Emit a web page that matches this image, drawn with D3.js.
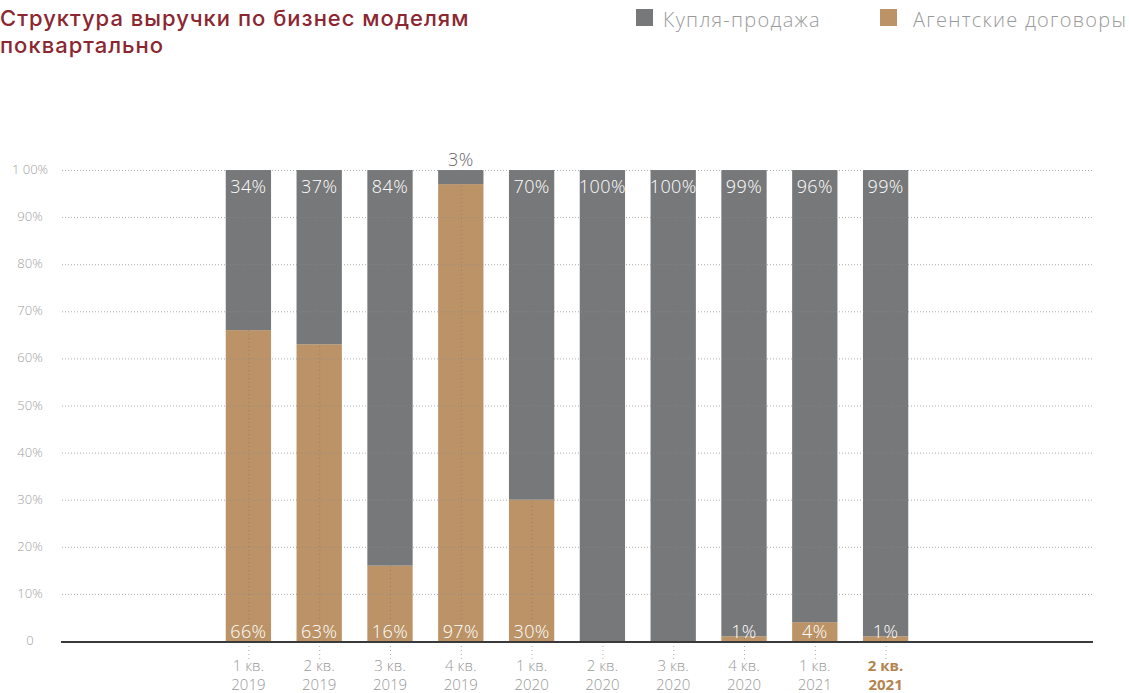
<!DOCTYPE html>
<html>
<head>
<meta charset="utf-8">
<script src="https://cdn.jsdelivr.net/npm/d3@7"></script>
<style>
  body { margin: 0; background: #fff; }
  svg text { font-family: "Open Sans", Roboto, sans-serif; }
</style>
</head>
<body>
<div id="chart"></div>
<script>
// revenue structure by business model, per quarter

var quarters = ["1 кв.", "2 кв.", "3 кв.", "4 кв.", "1 кв.", "2 кв.", "3 кв.", "4 кв.", "1 кв.", "2 кв."];
var years = ["2019", "2019", "2019", "2019", "2020", "2020", "2020", "2020", "2021", "2021"];
var saleShare = [34, 37, 84, 3, 70, 100, 100, 99, 96, 99];   // Купля-продажа
var agentShare = [66, 63, 16, 97, 30, 0, 0, 1, 4, 1];       // Агентские договоры
var seriesNames = ["Купля-продажа", "Агентские договоры"];
var seriesColors = ["#77787a", "#bb9366"];
var yTicks = [0, 10, 20, 30, 40, 50, 60, 70, 80, 90, 100];
var yTickLabels = ["0", "10%", "20%", "30%", "40%", "50%", "60%", "70%", "80%", "90%", "1 00%"];

var totwidth = 1129,
    totheight = 693,
    plot = {left: 61, right: 1094, top: 170, bottom: 641};

var rows = quarters.map(function(q, i) {
  return {key: i, quarter: q, year: years[i], sale: saleShare[i], agent: agentShare[i]};
});

var svg = d3.select("#chart").append("svg")
    .attr("width", totwidth)
    .attr("height", totheight);

var xScale = d3.scaleBand()
    .domain(rows.map(function(d) { return d.key; }))
    .range([213, 921])
    .paddingInner(0.36)
    .paddingOuter(0.18);

var yScale = d3.scaleLinear()
    .domain([0, 100])
    .range([plot.bottom, plot.top]);

// title
var title = svg.append("text")
    .attr("fill", "#8c2631")
    .style("font-family", "Inter, 'Noto Sans', sans-serif")
    .style("font-weight", 500)
    .style("font-size", "22px")
    .style("letter-spacing", "1px");
title.append("tspan").attr("x", 0).attr("y", 26).text("Структура выручки по бизнес моделям");
title.append("tspan").attr("x", 0).attr("y", 53).text("поквартально");

// legend
var legendX = [636, 880], legendTextX = [27, 33];
var legend = svg.selectAll(".legend")
    .data(seriesNames)
    .enter().append("g")
      .attr("class", "legend")
      .attr("transform", function(d, i) { return "translate(" + legendX[i] + ",9)"; });
legend.append("rect")
    .attr("width", 17)
    .attr("height", 17)
    .attr("fill", function(d, i) { return seriesColors[i]; });
legend.append("text")
    .attr("x", function(d, i) { return legendTextX[i]; })
    .attr("y", 18)
    .attr("fill", "#9a9a9a")
    .style("font-size", "20px")
    .style("font-weight", 300)
    .style("letter-spacing", "1.25px")
    .text(function(d) { return d; });

// y axis labels
svg.append("g").selectAll("text")
    .data(yTicks)
    .enter().append("text")
      .attr("x", 30)
      .attr("y", function(d) { return yScale(d) + 4; })
      .attr("text-anchor", "middle")
      .attr("fill", "#a0a0a0")
      .style("font-size", "13px")
      .style("font-weight", 300)
      .text(function(d, i) { return yTickLabels[i]; });

// stacked bars: agent at the bottom, sale on top
var stack = d3.stack().keys(["agent", "sale"]);
var layers = stack(rows);
var layerColor = {agent: seriesColors[1], sale: seriesColors[0]};

svg.append("g").selectAll("g")
    .data(layers)
    .enter().append("g")
      .attr("fill", function(d) { return layerColor[d.key]; })
    .selectAll("rect")
    .data(function(d) { return d; })
    .enter().append("rect")
      .attr("x", function(d) { return xScale(d.data.key); })
      .attr("width", xScale.bandwidth())
      .attr("y", function(d) { return yScale(d[1]); })
      .attr("height", function(d) { return yScale(d[0]) - yScale(d[1]); });

// horizontal grid (drawn over the bars)
svg.append("g").selectAll("line")
    .data(yTicks.filter(function(d) { return d > 0; }))
    .enter().append("line")
      .attr("x1", plot.left + 1)
      .attr("x2", plot.right)
      .attr("y1", function(d) { return yScale(d) + 0.5; })
      .attr("y2", function(d) { return yScale(d) + 0.5; })
      .attr("stroke", "#8a8a8a")
      .attr("stroke-opacity", 0.7)
      .attr("stroke-dasharray", "1,2");

// vertical grid at each quarter, running below the axis
svg.append("g").selectAll("line")
    .data(rows)
    .enter().append("line")
      .attr("x1", function(d) { return xScale(d.key) + xScale.bandwidth() / 2 + 0.5; })
      .attr("x2", function(d) { return xScale(d.key) + xScale.bandwidth() / 2 + 0.5; })
      .attr("y1", plot.top)
      .attr("y2", 661)
      .attr("stroke", "#777")
      .attr("stroke-opacity", 0.6)
      .attr("stroke-dasharray", "1,3");

// baseline
svg.append("line")
    .attr("x1", plot.left)
    .attr("x2", plot.right - 1)
    .attr("y1", plot.bottom + 1)
    .attr("y2", plot.bottom + 1)
    .attr("stroke", "#3a3a3a")
    .attr("stroke-width", 2);

// value labels
var cx = function(d) { return xScale(d.key) + xScale.bandwidth() / 2; };

svg.append("g").selectAll("text")
    .data(rows)
    .enter().append("text")
      .attr("x", cx)
      .attr("y", function(d) { return d.sale < 10 ? yScale(100) - 4 : yScale(100) + 23; })
      .attr("text-anchor", "middle")
      .attr("fill", function(d) { return d.sale < 10 ? "#666" : "#fff"; })
      .style("font-size", "18px")
      .style("font-weight", 300)
      .style("letter-spacing", "0.4px")
      .text(function(d) { return d.sale + "%"; });

svg.append("g").selectAll("text")
    .data(rows.filter(function(d) { return d.agent > 0; }))
    .enter().append("text")
      .attr("x", cx)
      .attr("y", yScale(0) - 3)
      .attr("text-anchor", "middle")
      .attr("fill", "#fff")
      .style("font-size", "18px")
      .style("font-weight", 300)
      .style("letter-spacing", "0.4px")
      .text(function(d) { return d.agent + "%"; });

// category labels
var catLabels = svg.append("g").selectAll("text")
    .data(rows)
    .enter().append("text")
      .attr("text-anchor", "middle")
      .attr("fill", function(d, i) { return i === rows.length - 1 ? "#b3844f" : "#9a9a9a"; })
      .style("font-size", "15px")
      .style("font-weight", function(d, i) { return i === rows.length - 1 ? 700 : 300; });
catLabels.append("tspan")
    .attr("x", cx)
    .attr("y", 671)
    .text(function(d) { return d.quarter; });
catLabels.append("tspan")
    .attr("x", cx)
    .attr("y", 690)
    .text(function(d) { return d.year; });
</script>
</body>
</html>
